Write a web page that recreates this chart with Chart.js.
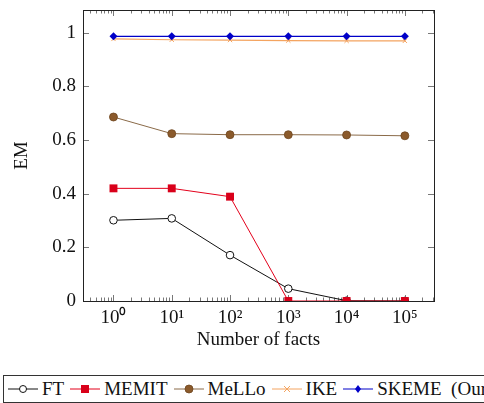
<!DOCTYPE html>
<html lang="en">

<head>
    <meta charset="utf-8">
    <title>EM vs number of facts</title>
    <script src="https://cdn.jsdelivr.net/npm/chart.js@4.4.0/dist/chart.umd.min.js"></script>
    <style>
        body { margin: 0; width: 484px; height: 403px; overflow: hidden; background: #fff; font-family: "Liberation Serif", serif; }
        .wrap { position: relative; width: 484px; height: 352px; }
        .legend { position: absolute; left: 3px; top: 375px; height: 26px; width: 560px; border: 1px solid #333;
                  display: flex; align-items: center; white-space: nowrap; font-size: 19px; color: #111; }
        .legend span.item { display: inline-flex; align-items: center; margin-left: 4px; margin-right: 2px; }
        .legend svg { margin-right: 4px; }
    </style>
</head>

<body>
    <div class="wrap">
        <canvas id="myChart" width="484" height="352"></canvas>
    </div>
    <div class="legend" id="legend"></div>
    <script>

        // data
        var facts = [1, 10, 100, 1000, 10000, 100000];
        var xTicks = [1, 10, 100, 1000, 10000, 100000];
        var yTicks = [0, 0.2, 0.4, 0.6, 0.8, 1];

        var ft = [0.301, 0.308, 0.171, 0.046, 0.001, 0.0];
        var memit = [0.42, 0.42, 0.389, 0.0, 0.0, 0.0];
        var mello = [0.686, 0.624, 0.620, 0.620, 0.619, 0.616];
        var ike = [0.977, 0.974, 0.973, 0.971, 0.970, 0.970];
        var skeme = [0.987, 0.987, 0.987, 0.987, 0.987, 0.987];

        var names = ['FT', 'MEMIT', 'MeLLo', 'IKE', 'SKEME\u00a0\u00a0(Ours)'];

        var sup = { '0': '\u2070', '1': '\u00b9', '2': '\u00b2', '3': '\u00b3', '4': '\u2074', '5': '\u2075' };
        var serif = '"Liberation Serif", "Times New Roman", serif';

        function pts(arr) {
            return arr.map(function (v, i) { return { x: facts[i], y: v }; });
        }

        // inward ticks + frame like pgfplots
        var frameTicks = {
            id: 'frameTicks',
            beforeDatasetsDraw: function (chart) {
                var ctx = chart.ctx, a = chart.chartArea;
                var xs = chart.scales.x, ys = chart.scales.y;
                ctx.save();
                ctx.strokeStyle = '#555';
                ctx.lineWidth = 0.8;
                ctx.beginPath();
                for (var n = -1; n <= 5; n++) {
                    for (var k = 1; k <= 9; k++) {
                        var v = k * Math.pow(10, n);
                        if (v < xs.min || v > xs.max) continue;
                        var px = Math.round(xs.getPixelForValue(v)) + 0.5;
                        var len = k === 1 ? 6 : 3.5;
                        ctx.moveTo(px, a.bottom); ctx.lineTo(px, a.bottom - len);
                        ctx.moveTo(px, a.top); ctx.lineTo(px, a.top + len);
                    }
                }
                yTicks.forEach(function (v) {
                    var py = Math.round(ys.getPixelForValue(v)) + 0.5;
                    ctx.moveTo(a.left, py); ctx.lineTo(a.left + 6, py);
                    ctx.moveTo(a.right, py); ctx.lineTo(a.right - 6, py);
                });
                ctx.stroke();
                ctx.strokeStyle = '#222';
                ctx.lineWidth = 1;
                ctx.strokeRect(Math.round(a.left) + 0.5, Math.round(a.top) + 0.5,
                    Math.round(a.right - a.left), Math.round(a.bottom - a.top));
                ctx.restore();
            }
        };

        var ctx = document.getElementById('myChart').getContext('2d');
        var myChart = new Chart(ctx, {
            type: 'line',
            data: {
                datasets: [{
                    label: names[0], data: pts(ft), order: 5,
                    borderColor: '#111', backgroundColor: '#fff', borderWidth: 1,
                    pointStyle: 'circle', pointRadius: 3.8, pointBorderWidth: 1, pointBorderColor: '#111', pointBackgroundColor: '#fff'
                }, {
                    label: names[1], data: pts(memit), order: 4,
                    borderColor: '#e3001b', backgroundColor: '#d9001a', borderWidth: 1,
                    pointStyle: 'rect', pointRadius: 5.6, pointBorderWidth: 0, pointBackgroundColor: '#d9001a'
                }, {
                    label: names[2], data: pts(mello), order: 3,
                    borderColor: '#8a6a48', backgroundColor: '#8b5a2b', borderWidth: 1,
                    pointStyle: 'circle', pointRadius: 4, pointBorderWidth: 0.8, pointBorderColor: '#6e4620', pointBackgroundColor: '#8b5a2b'
                }, {
                    label: names[3], data: pts(ike), order: 2,
                    borderColor: '#f4a460', backgroundColor: '#f4a460', borderWidth: 1.2,
                    pointStyle: 'crossRot', pointRadius: 3, pointBorderWidth: 1, pointBorderColor: '#f4a460'
                }, {
                    label: names[4], data: pts(skeme), order: 1,
                    borderColor: '#0000c8', backgroundColor: '#0000c8', borderWidth: 1.2,
                    pointStyle: 'rectRot', pointRadius: 4, pointBorderWidth: 0, pointBackgroundColor: '#0000c8'
                }]
            },
            options: {
                responsive: false,
                animation: false,
                layout: { padding: { top: 10, right: 50, left: 0, bottom: 0 } },
                plugins: { legend: { display: false }, tooltip: { enabled: false } },
                scales: {
                    x: {
                        type: 'logarithmic',
                        min: Math.pow(10, -0.51),
                        max: Math.pow(10, 5.5),
                        afterBuildTicks: function (s) { s.ticks = xTicks.map(function (v) { return { value: v }; }); },
                        afterFit: function (s) { s.height = 51; s.paddingLeft = 0; s.paddingRight = 0; },
                        grid: { display: false, drawTicks: false },
                        border: { display: false },
                        ticks: {
                            padding: 6, color: '#111', maxRotation: 0, autoSkip: false,
                            font: { family: serif, size: 19 },
                            callback: function (v) { return '10' + sup[String(Math.round(Math.log10(v)))]; }
                        },
                        title: { display: true, text: 'Number of facts', color: '#111', padding: { top: 0, bottom: 1 }, font: { family: serif, size: 19 } }
                    },
                    y: {
                        min: 0,
                        max: 1.085,
                        afterBuildTicks: function (s) { s.ticks = yTicks.map(function (v) { return { value: v }; }); },
                        afterFit: function (s) { s.width = 83; s.paddingTop = 0; s.paddingBottom = 0; },
                        grid: { display: false, drawTicks: false },
                        border: { display: false },
                        ticks: {
                            padding: 7, color: '#111',
                            font: { family: serif, size: 19 },
                            callback: function (v) { return v === 0 ? '0' : v === 1 ? '1' : v.toFixed(1); }
                        },
                        title: { display: true, text: 'EM', color: '#111', padding: { top: 11, bottom: 0 }, font: { family: serif, size: 19 } }
                    }
                }
            },
            plugins: [frameTicks]
        });

        // legend like the pgfplots one: short line with marker, then name
        var samples = [
            '<circle cx="15" cy="6" r="3.5" fill="#fff" stroke="#111"/>',
            '<rect x="11" y="2" width="8" height="8" fill="#d9001a"/>',
            '<circle cx="15" cy="6" r="4" fill="#8b5a2b" stroke="#6e4620" stroke-width="0.8"/>',
            '<path d="M12 3L18 9M18 3L12 9" stroke="#f4a460" stroke-width="1"/>',
            '<path d="M15 2L18 6L15 10L12 6Z" fill="#0000c8"/>'
        ];
        var legend = document.getElementById('legend');
        myChart.data.datasets.forEach(function (ds, i) {
            var item = document.createElement('span');
            item.className = 'item';
            item.innerHTML = '<svg width="30" height="12"><line x1="0" y1="6" x2="30" y2="6" stroke="' + ds.borderColor + '" stroke-width="1"/>' +
                samples[i] + '</svg>' + ds.label;
            legend.appendChild(item);
        });
    </script>
</body>

</html>
